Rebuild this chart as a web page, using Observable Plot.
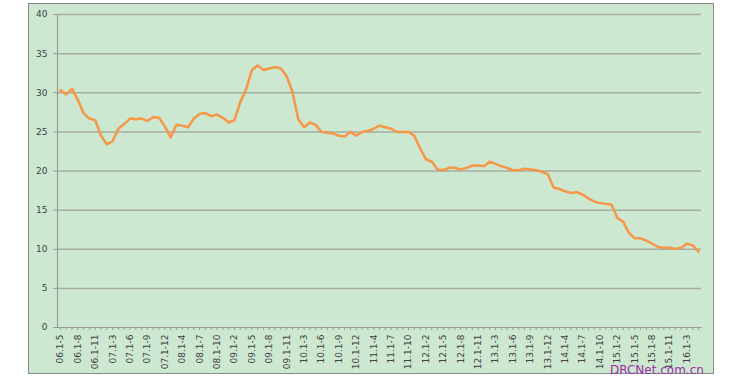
<!DOCTYPE html>
<html>
<head>
<meta charset="utf-8">
<script src="https://cdn.jsdelivr.net/npm/d3@7"></script>
<script src="https://cdn.jsdelivr.net/npm/@observablehq/plot@0.6"></script>
<style>
  html, body { margin: 0; padding: 0; background: #ffffff; }
  #wrap { position: relative; width: 742px; height: 386px; overflow: hidden; }
  #box { position: absolute; left: 28px; top: 3px; width: 684px; height: 369px;
         background: #cde8d0; border: 1.5px solid #8a8a8a; }
  #chart { position: absolute; left: 0; top: 0; }
  #mark { position: absolute; left: 610px; top: 364px; font-family: "DejaVu Sans", sans-serif;
          font-size: 12px; line-height: 12px; color: #9b30a8; white-space: nowrap; }
</style>
</head>
<body>
<div id="wrap">
  <div id="box"></div>
  <div id="chart"></div>
  <div id="mark">DRCNet.com.cn</div>
</div>
<script>
const categories = [
  "06.1-5","06.1-6","06.1-7","06.1-8","06.1-9","06.1-10","06.1-11","06.1-12",
  "07.1-2","07.1-3","07.1-4","07.1-5","07.1-6","07.1-7","07.1-8","07.1-9","07.1-10","07.1-11","07.1-12",
  "08.1-2","08.1-3","08.1-4","08.1-5","08.1-6","08.1-7","08.1-8","08.1-9","08.1-10","08.1-11","08.1-12",
  "09.1-2","09.1-3","09.1-4","09.1-5","09.1-6","09.1-7","09.1-8","09.1-9","09.1-10","09.1-11","09.1-12",
  "10.1-2","10.1-3","10.1-4","10.1-5","10.1-6","10.1-7","10.1-8","10.1-9","10.1-10","10.1-11","10.1-12",
  "11.1-2","11.1-3","11.1-4","11.1-5","11.1-6","11.1-7","11.1-8","11.1-9","11.1-10","11.1-11","11.1-12",
  "12.1-2","12.1-3","12.1-4","12.1-5","12.1-6","12.1-7","12.1-8","12.1-9","12.1-10","12.1-11","12.1-12",
  "13.1-2","13.1-3","13.1-4","13.1-5","13.1-6","13.1-7","13.1-8","13.1-9","13.1-10","13.1-11","13.1-12",
  "14.1-2","14.1-3","14.1-4","14.1-5","14.1-6","14.1-7","14.1-8","14.1-9","14.1-10","14.1-11","14.1-12",
  "15.1-2","15.1-3","15.1-4","15.1-5","15.1-6","15.1-7","15.1-8","15.1-9","15.1-10","15.1-11","15.1-12",
  "16.1-2","16.1-3","16.1-4","16.1-5"
];

const values = [
  30.3, 29.8, 30.5, 29.1, 27.4, 26.7, 26.5, 24.5, 23.4, 23.8,
  25.4, 26.0, 26.7, 26.6, 26.7, 26.4, 26.9, 26.8, 25.7, 24.3,
  25.9, 25.8, 25.6, 26.7, 27.3, 27.4, 27.0, 27.2, 26.8, 26.2,
  26.5, 28.8, 30.4, 32.9, 33.5, 32.9, 33.1, 33.3, 33.1, 32.1,
  30.1, 26.6, 25.6, 26.2, 25.9, 25.0, 24.9, 24.8, 24.5, 24.4,
  25.0, 24.5, 25.0, 25.1, 25.4, 25.8, 25.6, 25.4, 25.0, 25.0,
  25.0, 24.5, 22.9, 21.5, 21.2, 20.2, 20.1, 20.4, 20.4, 20.2,
  20.4, 20.7, 20.7, 20.6, 21.2, 20.9, 20.6, 20.4, 20.1, 20.1,
  20.3, 20.2, 20.1, 19.9, 19.6, 17.9, 17.7, 17.4, 17.2, 17.3,
  17.0, 16.5, 16.1, 15.9, 15.8, 15.7, 14.0, 13.5, 12.1, 11.4,
  11.4, 11.1, 10.7, 10.3, 10.2, 10.2, 10.05, 10.2, 10.7, 10.5, 9.7
];

const tickLabels = [
  "06.1-5","06.1-8","06.1-11","07.1-3","07.1-6","07.1-9","07.1-12","08.1-4","08.1-7","08.1-10",
  "09.1-2","09.1-5","09.1-8","09.1-11","10.1-3","10.1-6","10.1-9","10.1-12","11.1-4","11.1-7",
  "11.1-10","12.1-2","12.1-5","12.1-8","12.1-11","13.1-3","13.1-6","13.1-9","13.1-12","14.1-4",
  "14.1-7","14.1-10","15.1-2","15.1-5","15.1-8","15.1-11","16.1-3"
];

const yTicks = [0, 5, 10, 15, 20, 25, 30, 35, 40];

const data = categories.map((c, i) => ({period: c, value: values[i]}));
const labelSet = new Set(tickLabels);

const chart = Plot.plot({
  width: 742,
  height: 386,
  marginLeft: 57,
  marginRight: 41,
  marginTop: 14,
  marginBottom: 59,
  style: {background: "transparent", fontFamily: "DejaVu Sans, sans-serif", fontSize: "9px", color: "#404040"},
  x: {type: "point", domain: categories, padding: 0.5},
  y: {domain: [0, 40]},
  marks: [
    Plot.gridY(yTicks.filter(d => d > 0), {stroke: "#a4aca4", strokeOpacity: 1, strokeWidth: 1.5}),
    Plot.frame({anchor: "left", stroke: "#9a9a9a", strokeWidth: 1.2}),
    Plot.frame({anchor: "bottom", stroke: "#9a9a9a", strokeWidth: 1.2}),
    Plot.axisY({ticks: yTicks, tickSize: 4, tickPadding: 6, label: null, stroke: "#9a9a9a", fill: "#404040"}),
    Plot.axisX({ticks: categories, tickSize: 3, tickPadding: 4, tickRotate: -90,
                tickFormat: d => labelSet.has(d) ? d : "", label: null, stroke: "#9a9a9a", fill: "#404040"}),
    Plot.lineY(data, {x: "period", y: "value", stroke: "#f79646", strokeWidth: 2.5, strokeLinejoin: "round"})
  ]
});
document.getElementById("chart").appendChild(chart);
</script>
</body>
</html>
